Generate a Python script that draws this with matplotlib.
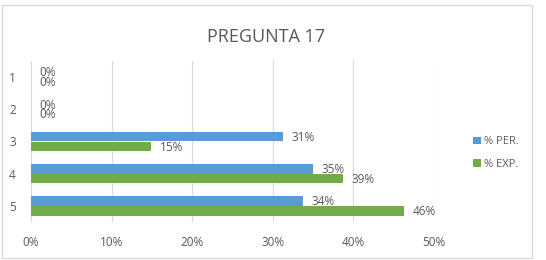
import matplotlib.pyplot as plt
from matplotlib.patches import Rectangle
import numpy as np

categories = ['1', '2', '3', '4', '5']
pct_per = [0.0, 0.0, 0.313, 0.35, 0.338]
pct_exp = [0.0, 0.0, 0.149, 0.387, 0.463]
series_names = ['% PER.', '% EXP.']
x_ticks = [0, 0.1, 0.2, 0.3, 0.4, 0.5]

BLUE = '#5B9BD5'
GREEN = '#70AD47'
TXT = '#595959'
GRID = '#D9D9D9'

plt.rcParams['font.family'] = ['Open Sans', 'DejaVu Sans']

fig = plt.figure(figsize=(5.46, 2.6), dpi=100)
ax = fig.add_axes([31 / 546, 1 - 222 / 260, (434 - 31) / 546, (222 - 61) / 260])

# chart border
fig.patches.append(Rectangle((1.5 / 546, 1 - 258 / 260), 530 / 546, 253 / 260,
                             transform=fig.transFigure, fill=False,
                             edgecolor=GRID, linewidth=1))

y = np.arange(len(categories))
h = 0.3
b1 = ax.barh(y - h / 2, pct_per, height=h, color=BLUE, label=series_names[0], zorder=3)
b2 = ax.barh(y + h / 2, pct_exp, height=h, color=GREEN, label=series_names[1], zorder=3)

for bars, vals in ((b1, pct_per), (b2, pct_exp)):
    for bar, v in zip(bars, vals):
        ax.annotate(f'{v:.0%}',
                    xy=(v, bar.get_y() + bar.get_height() / 2),
                    xytext=(6, -0.5), textcoords='offset points',
                    ha='left', va='center', fontsize=8.5, color=TXT, zorder=4)

ax.set_xlim(0, 0.5)
ax.set_ylim(len(categories) - 0.5, -0.5)
ax.set_xticks(x_ticks)
ax.set_xticklabels([f'{t:.0%}' for t in x_ticks])
ax.set_yticks(y)
ax.set_yticklabels(categories)
ax.tick_params(axis='both', length=0, colors=TXT, labelsize=8.5)
ax.tick_params(axis='y', pad=11)
ax.tick_params(axis='x', pad=10)
ax.grid(axis='x', color=GRID, linewidth=0.8, zorder=0)
for s in ax.spines.values():
    s.set_visible(False)

fig.text(266 / 546, 1 - 37 / 260, 'PREGUNTA 17', ha='center', va='center',
         fontsize=13, color=TXT)

fig.legend(handles=[b1, b2], loc='center left',
           bbox_to_anchor=(463 / 546, 1 - 153 / 260), frameon=False,
           fontsize=8, labelcolor=TXT, handlelength=0.7, handleheight=0.7,
           handletextpad=0.3, labelspacing=1.0)

fig.savefig('out.png', dpi=100)
